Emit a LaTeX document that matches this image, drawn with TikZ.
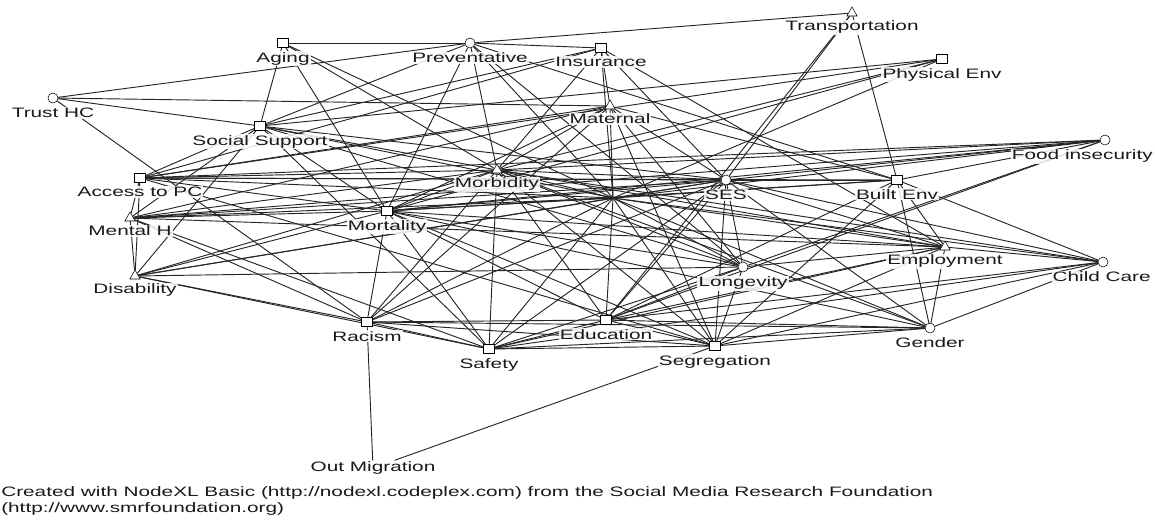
\documentclass[tikz,border=0pt]{standalone}
\usepackage{fontspec}
\newfontfamily\nxfont[FakeStretch=1.52]{Liberation Sans}
\usetikzlibrary{positioning,shapes.geometric,backgrounds}
\tikzset{
    sqnode/.style={
        rectangle,
        draw=black, % 方形顶点
        fill=white,
        minimum width=8pt,
        minimum height=6.5pt,
        inner sep=0
    },
    rdnode/.style={
        circle,
        draw=black, % 圆形顶点
        fill=white,
        minimum size=7.5pt,
        inner sep=0
    },
    trinode/.style={
        regular polygon,
        regular polygon sides=3,
        draw=black, % 三角形顶点
        fill=white,
        minimum size=9pt,
        inner sep=0
    },
    lbl/.style={
        font=\nxfont\fontsize{10.25}{12.2}\selectfont,
        text=black!90,
        fill=white,
        fill opacity=0.85,
        text opacity=1,
        inner sep=0.8pt
    },
    lab/.style={label={[lbl,label distance=2.5pt]below:#1}},
    edge/.style={draw=black!85, line width=0.7pt}
}

\begin{document}
\begin{tikzpicture}[x=0.75pt,y=-0.75pt]
    \useasboundingbox (0,0) rectangle (1155,526);
    % 顶点
    \node[sqnode,lab=Aging]          (ag)  at (283,43)  {};
    \node[rdnode,lab=Preventative]   (pv)  at (470,43)  {};
    \node[sqnode,lab=Insurance]      (ins) at (601,48)  {};
    \node[trinode,lab=Transportation] (tr) at (852,13)  {};
    \node[sqnode,lab=Physical Env]   (pe)  at (942,59)  {};
    \node[rdnode,lab=Trust HC]       (th)  at (53,98)   {};
    \node[sqnode,lab=Social Support] (ss)  at (260,126) {};
    \node[trinode,lab=Maternal]      (mat) at (610,106) {};
    \node[rdnode,label={[lbl,label distance=2.5pt,xshift=-17pt]below:Food insecurity}] (fi) at (1105,140) {};
    \node[sqnode,lab=Access to PC]   (apc) at (140,178) {};
    \node[trinode,lab=Morbidity]     (mb)  at (497,170) {};
    \coordinate (hub) at (613,198);
    \node[rdnode,lab=SES]            (ses) at (726,180) {};
    \node[sqnode,lab=Built Env]      (be)  at (897,180) {};
    \node[sqnode,lab=Mortality]      (mo)  at (387,211) {};
    \node[trinode,lab=Mental H]      (mh)  at (130,218) {};
    \node[rdnode,lab=Longevity]      (lg)  at (743,267) {};
    \node[trinode,lab=Employment]    (emp) at (945,247) {};
    \node[rdnode,label={[lbl,label distance=2.5pt,xshift=-1pt]below:Child Care}] (cc) at (1103,262) {};
    \node[trinode,lab=Disability]    (dis) at (135,276) {};
    \node[sqnode,lab=Racism]         (rac) at (367,322) {};
    \node[sqnode,lab=Education]      (edu) at (606,320) {};
    \node[sqnode,lab=Safety]         (saf) at (489,349) {};
    \node[sqnode,lab=Segregation]    (seg) at (715,346) {};
    \node[rdnode,lab=Gender]         (gen) at (930,328) {};
    \node[lbl] (om) at (373,468) {Out Migration};

    % 连线
    \begin{scope}[on background layer]
        \foreach \a/\b in {th/pv, th/mat, th/ss, th/rac,
                ag/pv, ag/ss, ag/mo, ag/mb, ag/hub,
                pv/ins, pv/tr, pv/ss, pv/mo, pv/mb, pv/be, pv/lg, pv/hub,
                ins/mat, ins/ss, ins/apc, ins/mb, ins/ses, ins/hub, ins/emp,
                tr/ses, tr/be, tr/edu,
                pe/ss, pe/mb, pe/hub, pe/mo, pe/apc,
                ss/apc, ss/mh, ss/dis, ss/mb, ss/hub, ss/ses, ss/mo, ss/saf, ss/lg,
                mat/mb, mat/mo, mat/hub, mat/ses, mat/apc, mat/mh, mat/be, mat/seg, mat/rac, mat/lg,
                fi/apc, fi/mh, fi/mb, fi/ses, fi/be, fi/mo, fi/lg, fi/edu, fi/hub,
                apc/mh, apc/mb, apc/hub, apc/ses, apc/be, apc/seg, apc/dis, apc/mo,
                mb/mh, mb/dis, mb/mo, mb/hub, mb/ses, mb/emp, mb/cc, mb/lg, mb/edu, mb/seg, mb/saf, mb/rac, mb/gen,
                hub/mh, hub/dis, hub/mo, hub/ses, hub/be, hub/emp, hub/cc, hub/lg, hub/edu, hub/seg, hub/saf, hub/rac, hub/gen,
                ses/mo, ses/mh, ses/dis, ses/be, ses/emp, ses/cc, ses/lg, ses/edu, ses/seg, ses/saf, ses/rac, ses/gen,
                be/mo, be/emp, be/cc, be/seg, be/gen, be/edu,
                mo/mh, mo/dis, mo/emp, mo/lg, mo/edu, mo/seg, mo/saf, mo/rac, mo/gen,
                mh/dis, mh/emp, mh/saf, mh/rac,
                emp/gen, emp/cc, emp/seg, emp/edu, emp/saf, emp/lg,
                cc/gen, cc/saf, cc/edu, cc/seg,
                lg/dis, lg/seg, lg/saf, lg/edu,
                dis/saf, dis/rac,
                rac/om, rac/edu, rac/saf, rac/seg, rac/gen,
                edu/saf, edu/seg, edu/gen,
                saf/seg, saf/gen,
                seg/om, seg/gen}
            \draw[edge] (\a) -- (\b);
    \end{scope}

    % 页脚
    \node[lbl,fill opacity=0,anchor=north west,align=left,inner sep=0pt] (credit) at (1,486)
        {Created with NodeXL Basic (http://nodexl.codeplex.com) from the Social Media Research Foundation\\(http://www.smrfoundation.org)};
\end{tikzpicture}
\end{document}
